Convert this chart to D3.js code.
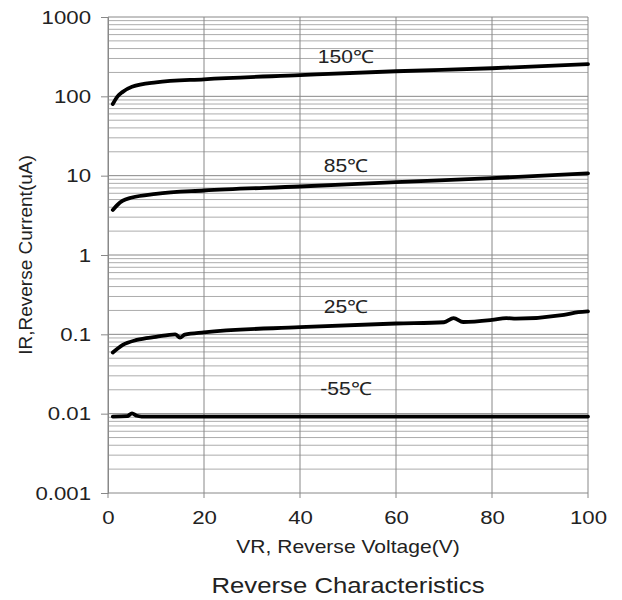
<!DOCTYPE html>
<html>
<head>
<meta charset="utf-8">
<script src="https://cdn.jsdelivr.net/npm/d3@7"></script>
<style>
  body { margin: 0; background: #fff; }
  text { font-family: "Liberation Sans", Arial, sans-serif; fill: #222; }
</style>
</head>
<body>
<div id="chart"></div>
<script>
// reverse current vs reverse voltage, one array pair per temperature
const v150 = [1, 2, 3, 5, 10, 20, 40, 60, 80, 100];
const i150 = [80, 100, 113, 132, 150, 164, 185, 207, 226, 255];

const v85 = [1, 2, 3, 5, 10, 20, 40, 60, 80, 100];
const i85 = [3.7, 4.3, 4.8, 5.3, 5.9, 6.5, 7.3, 8.3, 9.3, 10.7];

const v25 = [1, 3, 6, 10, 14, 15, 16, 20, 40, 60, 70, 72, 74, 80, 83, 85, 95, 98, 100];
const i25 = [0.059, 0.073, 0.085, 0.093, 0.1, 0.091, 0.099, 0.106, 0.123, 0.137, 0.142, 0.16, 0.143, 0.152, 0.16, 0.158, 0.176, 0.19, 0.195];

const vm55 = [1, 4, 5, 6, 7, 20, 40, 60, 80, 100];
const im55 = [0.0092, 0.0093, 0.0101, 0.0094, 0.0092, 0.0092, 0.0092, 0.0092, 0.0092, 0.0092];

const seriesNames = ['150℃', '85℃', '25℃', '-55℃'];
const labelAt = [264, 11, 0.184, 0.017];

const xTicks = [0, 20, 40, 60, 80, 100];
const yTicks = [0.001, 0.01, 0.1, 1, 10, 100, 1000];
const yTickLabels = ['0.001', '0.01', '0.1', '1', '10', '100', '1000'];

const width = 622, height = 600;
const margin = { left: 108, right: 34, top: 17, bottom: 107 };
const stretch = 1.17; // the source text is a little wide

const svg = d3.select('#chart').append('svg')
  .attr('width', width)
  .attr('height', height);

const x = d3.scaleLinear().domain([0, 100]).range([margin.left, width - margin.right]);
const y = d3.scaleLog().domain([0.001, 1000]).range([height - margin.bottom, margin.top]);

// minor horizontal grid (2..9 in every decade)
const minor = [];
yTicks.slice(0, -1).forEach(d => {
  for (let k = 2; k <= 9; k++) minor.push(d * k);
});

const grid = svg.append('g');
grid.selectAll('line.minor')
  .data(minor)
  .join('line')
  .attr('class', 'minor')
  .attr('x1', x(0)).attr('x2', x(100))
  .attr('y1', d => y(d)).attr('y2', d => y(d))
  .attr('stroke', '#acacac')
  .attr('stroke-width', 1);

grid.selectAll('line.major')
  .data(yTicks)
  .join('line')
  .attr('class', 'major')
  .attr('x1', x(0)).attr('x2', x(100))
  .attr('y1', d => y(d)).attr('y2', d => y(d))
  .attr('stroke', '#888')
  .attr('stroke-width', 1);

grid.selectAll('line.vert')
  .data(xTicks)
  .join('line')
  .attr('class', 'vert')
  .attr('x1', d => x(d)).attr('x2', d => x(d))
  .attr('y1', y(1000)).attr('y2', y(0.001) + 5)
  .attr('stroke', '#888')
  .attr('stroke-width', 1);

// left axis with decade ticks
const yAxis = d3.axisLeft(y)
  .tickValues(yTicks)
  .tickFormat((d, i) => yTickLabels[i])
  .tickSize(7)
  .tickPadding(10);

const gy = svg.append('g')
  .attr('transform', `translate(${x(0)},0)`)
  .call(yAxis);
gy.select('.domain').attr('stroke', '#888');
gy.selectAll('.tick line').attr('stroke', '#888');
gy.selectAll('.tick text')
  .attr('x', -17 / stretch)
  .attr('transform', `scale(${stretch},1)`)
  .style('font-family', '"Liberation Sans", Arial, sans-serif')
  .style('font-size', '19px')
  .attr('fill', '#222');

const xAxis = d3.axisBottom(x)
  .tickValues(xTicks)
  .tickSize(0)
  .tickPadding(18);

const gx = svg.append('g')
  .attr('transform', `translate(0,${y(0.001)})`)
  .call(xAxis);
gx.select('.domain').remove();
gx.selectAll('.tick text')
  .attr('transform', `scale(${stretch},1)`)
  .style('font-family', '"Liberation Sans", Arial, sans-serif')
  .style('font-size', '19px')
  .attr('fill', '#222');

// curves
const line = d3.line()
  .x(d => x(d[0]))
  .y(d => y(d[1]))
  .curve(d3.curveMonotoneX);

const series = [
  d3.zip(v150, i150),
  d3.zip(v85, i85),
  d3.zip(v25, i25),
  d3.zip(vm55, im55)
];

svg.append('g').selectAll('path')
  .data(series)
  .join('path')
  .attr('d', line)
  .attr('fill', 'none')
  .attr('stroke', '#000')
  .attr('stroke-width', 3.8)
  .attr('stroke-linejoin', 'round')
  .attr('stroke-linecap', 'round');

svg.append('g').selectAll('text')
  .data(seriesNames)
  .join('text')
  .attr('transform', (d, i) => `translate(${x(49.5)},${y(labelAt[i])}) scale(${stretch},1)`)
  .attr('text-anchor', 'middle')
  .style('font-size', '18px')
  .text(d => d);

// titles
svg.append('text')
  .attr('transform', `translate(${x(50)},553) scale(${stretch},1)`)
  .attr('text-anchor', 'middle')
  .style('font-size', '18px')
  .text('VR, Reverse Voltage(V)');

svg.append('text')
  .attr('transform', `translate(25,${y(1)}) rotate(-90)`)
  .attr('text-anchor', 'middle')
  .attr('dy', '0.35em')
  .style('font-size', '19px')
  .text('IR,Reverse Current(uA)');

svg.append('text')
  .attr('transform', `translate(${x(50)},593) scale(${stretch},1)`)
  .attr('text-anchor', 'middle')
  .style('font-size', '22px')
  .text('Reverse Characteristics');
</script>
</body>
</html>
